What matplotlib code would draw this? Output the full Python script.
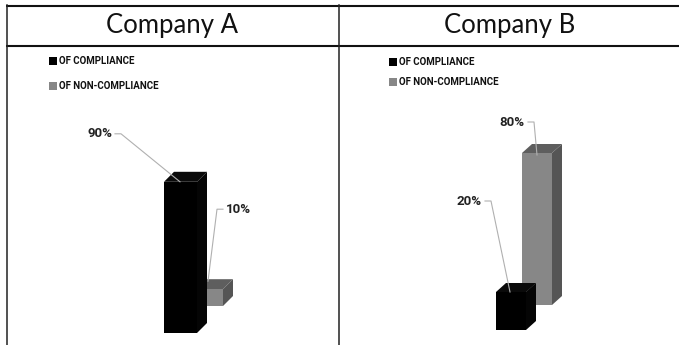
"""
Two-panel 3D-style column chart: compliance share, Company A vs Company B.
"""

import matplotlib
matplotlib.use("Agg")
import matplotlib.pyplot as plt
from matplotlib.patches import Polygon, Rectangle

# ── Data ───────────────────────────────────────────────────────────────────────
companies = ["Company A", "Company B"]
series = ["OF COMPLIANCE", "OF NON-COMPLIANCE"]
compliance = [90, 20]
non_compliance = [10, 80]
value_labels = [["90%", "10%"], ["20%", "80%"]]

# ── Style ──────────────────────────────────────────────────────────────────────
W, H, DPI = 679, 345, 100
BLACK = ("#000000", "#0a0a0a", "#050505")       # front, top, side
GREY = ("#878787", "#5e5e5e", "#555555")
LEADER = "#b0b0b0"
TITLE_FONT = ["Lato", "DejaVu Sans"]
NARROW = ["Liberation Sans Narrow", "Roboto", "DejaVu Sans"]

fig = plt.figure(figsize=(W / DPI, H / DPI), dpi=DPI)
fig.patch.set_facecolor("white")

# frame axes in pixel coordinates (y down)
frame = fig.add_axes([0, 0, 1, 1])
frame.set_xlim(0, W)
frame.set_ylim(H, 0)
frame.axis("off")

frame.plot([6, W], [5.7, 5.7], color="#111111", lw=1.5, solid_capstyle="butt")
frame.plot([6, W], [45.7, 45.7], color="#111111", lw=1.5, solid_capstyle="butt")
frame.plot([6.5, 6.5], [5, H], color="#222222", lw=1.1)
frame.plot([338.7, 338.7], [5, H], color="#222222", lw=1.1)

# panel layout: title centre x, legend x, legend rows y
panels = [
    dict(cx=172, lx=53, ly=(61, 86), ax_left=140, ax_w=140, base=333, ppp=1.68,
         ytop=130, front=(24, 33), shift=(26, 27), depth=(10, 10),
         labels=[(16, 0, -68, 48, "right"), (18, 8, 18, 72, "left")]),
    dict(cx=510, lx=393, ly=(62, 82), ax_left=440, ax_w=160, base=330, ppp=1.90,
         ytop=120, front=(56, 30), shift=(26, 25), depth=(10, 9),
         labels=[(14, 0, -28, 91, "right"), (15, -2, -12, 33, "right")]),
]

for i, p in enumerate(panels):
    frame.text(p["cx"], 26, companies[i], ha="center", va="center",
               fontsize=18.5, family=TITLE_FONT, color="#111111")
    for j, (name, col) in enumerate(zip(series, ["#000000", GREY[0]])):
        frame.scatter([p["lx"]], [p["ly"][j]], marker="s", s=30, color=col,
                      linewidths=0)
        frame.text(p["lx"] + 6, p["ly"][j], name, ha="left", va="center",
                   fontsize=7, fontweight="bold", family=NARROW, color="#111111")

    # chart axes: x in pixels, y in percent
    ppp = p["ppp"]
    ax_h = p["ytop"] * ppp
    ax = fig.add_axes([p["ax_left"] / W, (H - p["base"]) / H, p["ax_w"] / W, ax_h / H])
    ax.set_xlim(0, p["ax_w"])
    ax.set_ylim(0, p["ytop"])
    ax.axis("off")

    vals = [compliance[i], non_compliance[i]]
    x0, bw = p["front"]
    sdx, sdy = p["shift"][0], p["shift"][1] / ppp
    ddx, ddy = p["depth"][0], p["depth"][1] / ppp

    # back series first, then front series
    for j in (1, 0):
        v = vals[j]
        x = x0 + j * sdx
        b = j * sdy
        front, top, side = (BLACK, GREY)[j]
        ax.add_patch(Polygon([(x + bw, b), (x + bw + ddx, b + ddy),
                              (x + bw + ddx, b + v + ddy), (x + bw, b + v)],
                             closed=True, facecolor=side, edgecolor="none", zorder=2 + 2 * (1 - j)))
        ax.add_patch(Polygon([(x, b + v), (x + ddx, b + v + ddy),
                              (x + bw + ddx, b + v + ddy), (x + bw, b + v)],
                             closed=True, facecolor=top, edgecolor="none", zorder=2 + 2 * (1 - j)))
        ax.add_patch(Rectangle((x, b), bw, v, facecolor=front, edgecolor="none",
                               zorder=3 + 2 * (1 - j)))

        # leader line + value label
        tx, ty, lx, ly, ha = p["labels"][j]
        px, py = x + tx, b + v + ty / ppp
        lab_x, lab_y = px + lx, py + ly / ppp
        sgn = 1 if ha == "right" else -1
        ax.plot([lab_x + sgn * 3, lab_x + sgn * 9, px], [lab_y, lab_y, py],
                color=LEADER, lw=0.8, zorder=8, clip_on=False)
        ax.text(lab_x, lab_y, value_labels[i][j], ha=ha, va="center",
                fontsize=9.5, fontweight="bold", family=NARROW, color="#222222",
                zorder=9, clip_on=False)

fig.savefig("out.png", dpi=DPI, facecolor="white")
plt.close(fig)
